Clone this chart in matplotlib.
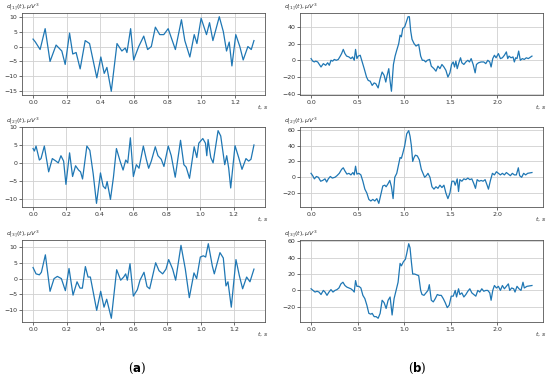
import matplotlib
matplotlib.use("Agg")
import matplotlib.pyplot as plt
import numpy as np

# ---- left column: t in s, amplitude in uV^3 ----
t_a1 = [0.000, 0.014, 0.042, 0.072, 0.101, 0.137, 0.171, 0.191, 0.217, 0.236, 0.256, 0.280,
        0.310, 0.336, 0.379, 0.403, 0.423, 0.439, 0.465, 0.499, 0.528, 0.548, 0.558, 0.580,
        0.598, 0.628, 0.658, 0.681, 0.703, 0.727, 0.753, 0.777, 0.803, 0.846, 0.882, 0.902,
        0.932, 0.958, 0.974, 0.999, 1.031, 1.049, 1.069, 1.107, 1.131, 1.150, 1.166, 1.182,
        1.205, 1.229, 1.249, 1.277, 1.297, 1.313]
d_a1 = [2.5, 1.5, -1.0, 6.0, -5.0, 0.5, -1.5, -6.0, 4.5, -2.5, -2.0, -7.5,
        2.0, 1.0, -10.5, -3.5, -9.0, -7.0, -15.0, 1.0, -1.5, -0.5, -2.0, 6.0,
        -4.5, 0.0, 3.5, -1.0, 0.0, 6.5, 4.0, 4.0, 6.0, -1.0, 9.0, 2.0,
        -3.5, 4.0, 1.0, 9.5, 4.0, 8.0, 2.0, 10.0, 5.0, -1.5, 1.5, -6.5,
        4.0, 0.0, -4.5, 0.0, -1.0, 2.0]

x_a2 = [99, 103, 108, 118, 123, 133, 146, 157, 168, 175, 183, 191, 198, 209, 218, 227, 236,
        242, 248, 261, 270, 280, 290, 302, 310, 317, 322, 332, 341, 350, 361, 370, 378, 384,
        392, 401, 410, 418, 431, 440, 447, 455, 467, 475, 485, 493, 506, 515, 527, 543, 553,
        560, 570, 584, 592, 598, 610, 618, 622, 626, 634, 641, 656, 664, 676, 682, 688, 694,
        707, 718, 728, 740, 748, 755, 764]
d_a2 = [4.0, 3.3, 4.7, 0.8, 1.2, 4.7, -2.5, 1.2, 0.5, 0.0, 2.0, 0.5, -6.0, 2.8, -3.8, -0.8,
        -2.0, -2.5, -4.5, 4.7, 3.5, -3.0, -11.3, -2.8, -6.5, -7.2, -5.2, -10.2, -4.0, 4.0,
        0.5, -2.0, 0.8, 0.0, 7.0, -3.8, -0.5, -1.5, 4.7, 1.0, -1.5, 0.5, 4.5, 2.0, 1.0, -1.0,
        4.7, 2.0, -4.0, 6.3, -0.5, -1.2, -4.3, 4.5, 1.5, 5.5, 6.8, 5.5, 2.0, 6.5, 1.5, 0.0,
        9.0, 7.5, -0.5, 2.0, -1.5, -7.0, 4.8, 1.5, -1.8, 1.2, 0.5, 1.0, 5.0]
t_a2 = [(x - 99) / 503.3 for x in x_a2]

x_a3 = [99, 108, 118, 124, 136, 150, 162, 172, 184, 196, 207, 219, 231, 240, 247, 256, 264,
        271, 281, 290, 302, 312, 320, 334, 350, 362, 371, 377, 382, 390, 400, 412, 420, 432,
        441, 449, 467, 477, 488, 498, 506, 518, 527, 543, 556, 568, 582, 590, 601, 610, 617,
        625, 637, 643, 660, 670, 678, 684, 694, 708, 718, 728, 740, 750, 762]
d_a3 = [3.5, 1.5, 1.2, 2.0, 7.5, -4.0, 0.0, 0.7, 0.0, -3.8, 3.2, -5.2, -1.0, -3.0, -3.0, 3.8,
        0.5, 0.5, -5.0, -10.0, -4.0, -9.0, -6.5, -12.5, 2.8, -0.5, 0.5, 1.5, -0.5, 4.7, -5.5,
        -3.5, -0.5, 2.0, -2.5, -3.2, 5.0, 2.5, 1.5, 3.0, 6.0, 3.0, -0.5, 10.5, 3.0, -6.0, 1.8,
        0.0, 6.8, 7.2, 6.8, 11.0, 4.0, 1.5, 8.2, 6.5, -2.3, -1.0, -9.0, 6.0, 1.0, -3.2, 0.5,
        -1.0, 3.0]
t_a3 = [(x - 99) / 503.3 for x in x_a3]

# ---- right column ----
x_b1 = [108, 113, 118, 122, 128, 138, 145, 152, 158, 163, 168, 173, 178, 184, 190, 196, 200,
        205, 210, 215, 222, 228, 233, 238, 242, 246, 250, 256, 262, 268, 275, 280, 286, 292,
        298, 303, 310, 316, 322, 328, 333, 337, 342, 346, 350, 356, 361, 366, 372, 376, 380,
        384, 390, 395, 400, 404, 408, 412, 418, 424, 428, 432, 438, 443, 448, 453, 458, 465,
        470, 478, 484, 490, 496, 502, 508, 514, 520, 526, 531, 536, 540, 544, 548, 553, 558,
        562, 568, 574, 580, 585, 590, 596, 602, 606, 612, 620, 628, 634, 640, 646, 650, 655,
        660, 665, 672, 678, 684, 690, 696, 700, 704, 710, 716, 720, 724, 728, 733, 738, 744,
        750, 756, 762, 773]
d_b1 = [2, -1, -2, -1, -2, -8, -4, -6, -3, -6, 0, -1, 1, 0, 1, 5, 8,
        13, 8, 5, 4, 2, 4, 0, 13, 2, 5, 6, -2, -10, -20, -24, -25, -30,
        -27, -28, -33, -22, -14, -18, -26, -18, -10, -25, -37, -5, 5, 12, 20, 30, 28,
        38, 40, 46, 52, 52, 35, 25, 20, 17, 18, 19, 5, 0, 0, -2, 0, 1,
        -7, -10, -13, -7, -10, -5, -8, -12, -20, -15, -5, -2, -8, -1, -10, -3, 3,
        -3, -5, -2, 0, -2, 2, -5, -15, -5, -3, -2, -2, -4, 0, -2, -8, 2,
        6, 3, 8, 2, 3, 6, 10, 2, 5, 3, 4, -2, 3, 2, 11, 0, 2,
        1, 3, 2, 5]
t_b1 = [(x - 108) / 280 for x in x_b1]

x_b2 = [108, 113, 118, 124, 130, 137, 143, 150, 155, 160, 166, 172, 180, 186, 193, 200, 205,
        210, 216, 222, 228, 234, 238, 242, 246, 252, 258, 264, 270, 276, 282, 288, 294, 300,
        306, 312, 318, 324, 330, 334, 340, 345, 350, 355, 360, 366, 371, 376, 380, 384, 390,
        396, 402, 406, 410, 414, 418, 422, 428, 434, 440, 445, 450, 455, 460, 466, 472, 478,
        484, 490, 496, 502, 508, 514, 520, 526, 532, 538, 542, 548, 552, 556, 562, 568, 574,
        580, 586, 592, 598, 603, 608, 614, 620, 626, 632, 638, 642, 648, 654, 660, 666, 672,
        678, 684, 690, 696, 702, 708, 714, 720, 726, 732, 736, 742, 748, 754, 760, 773]
d_b2 = [5, 2, -2, 1, 0, -5, -4, -2, -6, -2, 1, -1, 0, 2, 5, 10, 12,
        8, 4, 5, 3, 6, 3, 14, 4, 5, 3, -5, -15, -20, -28, -30, -28, -30,
        -27, -33, -22, -11, -10, -12, -8, -4, -12, -27, 0, 5, 15, 25, 24, 30, 40,
        55, 59, 52, 40, 20, 25, 28, 27, 22, 10, 5, 0, 2, 5, 0, -12, -15,
        -12, -14, -10, -13, -10, -20, -27, -20, -5, -5, -10, -2, -18, -3, -5, -2, -3,
        -1, -3, -2, -8, -14, -3, -5, -4, -5, -3, -10, -15, -4, 5, 3, 7, 5,
        3, 5, 3, 6, 4, 2, 5, 3, 3, 12, 2, 0, 5, 3, 5, 6]
t_b2 = [(x - 108) / 280 for x in x_b2]

x_b3 = [108, 114, 120, 126, 132, 138, 145, 150, 156, 162, 168, 174, 180, 186, 192, 198, 204,
        210, 216, 222, 228, 234, 238, 242, 246, 252, 258, 264, 270, 276, 282, 288, 292, 298,
        304, 310, 316, 322, 328, 334, 340, 346, 352, 358, 364, 370, 376, 380, 386, 392, 396,
        402, 406, 410, 414, 420, 426, 432, 438, 442, 448, 454, 460, 464, 470, 476, 482, 488,
        494, 500, 506, 512, 518, 524, 530, 536, 542, 546, 552, 556, 562, 568, 574, 580, 586,
        592, 598, 604, 610, 616, 622, 628, 634, 640, 646, 650, 655, 660, 666, 672, 678, 684,
        690, 696, 702, 706, 712, 718, 722, 728, 734, 740, 746, 750, 758, 773]
d_b3 = [2, 0, -2, -1, -2, -5, 0, -2, -6, -2, 1, -2, 0, 1, 3, 8, 10,
        6, 4, 3, 2, 0, -2, 12, 5, 5, 3, -6, -10, -18, -28, -29, -28, -32,
        -32, -34, -28, -12, -15, -22, -12, -8, -30, -10, 0, 10, 33, 30, 35, 38, 45,
        57, 52, 35, 20, 20, 19, 18, 0, -5, -6, -3, 0, 7, -12, -14, -10, -5,
        -6, -6, -10, -15, -21, -18, -7, -7, 0, -8, 2, -5, -3, -8, -5, -1, 2,
        -3, -5, -7, 0, -2, 2, -1, 0, 0, -3, -12, 0, 6, 3, 5, 0, 6,
        2, 5, 8, 0, 3, 2, -2, 5, 2, 0, 10, 3, 5, 6]
t_b3 = [(x - 108) / 280 for x in x_b3]

series = [
    (t_a1, d_a1, r"$d_{[1]}(t), \mu V^3$"), (t_b1, d_b1, r"$d_{[1]}(t), \mu V^3$"),
    (t_a2, d_a2, r"$d_{[2]}(t), \mu V^3$"), (t_b2, d_b2, r"$d_{[2]}(t), \mu V^3$"),
    (t_a3, d_a3, r"$d_{[3]}(t), \mu V^3$"), (t_b3, d_b3, r"$d_{[3]}(t), \mu V^3$"),
]

W, H = 550, 378
fig = plt.figure(figsize=(W / 100, H / 100), dpi=100)
rows = [(13, 95), (127, 207), (240, 322)]
cols = [(22, 265), (300, 543)]

for i, (t, d, lab) in enumerate(series):
    r, c = divmod(i, 2)
    (y0, y1), (x0, x1) = rows[r], cols[c]
    ax = fig.add_axes([x0 / W, 1 - y1 / H, (x1 - x0) / W, (y1 - y0) / H])
    ax.plot(t, d, color="#1f77b4", lw=0.9)
    ax.grid(True, color="#d0d0d0", lw=0.6)
    ax.set_axisbelow(True)
    for s in ax.spines.values():
        s.set_color("#555555")
        s.set_linewidth(0.6)
    ax.tick_params(labelsize=4.5, colors="#333333", width=0.5, length=2, pad=1.5)
    if c == 0:
        ax.set_xticks([0.0, 0.2, 0.4, 0.6, 0.8, 1.0, 1.2])
    else:
        ax.set_xticks([0.0, 0.5, 1.0, 1.5, 2.0])
    ax.xaxis.set_major_formatter(matplotlib.ticker.FormatStrFormatter("%.1f"))
    fig.text((6 if c == 0 else 284) / W, 1 - (y0 - 6) / H, lab, fontsize=4.5,
             ha="left", va="center", color="#333333")
    fig.text((x1 - 2) / W, 1 - (y1 + 12) / H, r"$t$, $s$", fontsize=4.5,
             ha="center", va="center", color="#333333")

for x, letter in [(137, "a"), (417, "b")]:
    fig.text(x / W, 1 - 368 / H, r"($\mathbf{%s}$)" % letter, fontsize=8.5,
             ha="center", va="center", family="DejaVu Serif")
plt.rcParams["mathtext.fontset"] = "dejavuserif"

fig.savefig("out.png", dpi=100)
